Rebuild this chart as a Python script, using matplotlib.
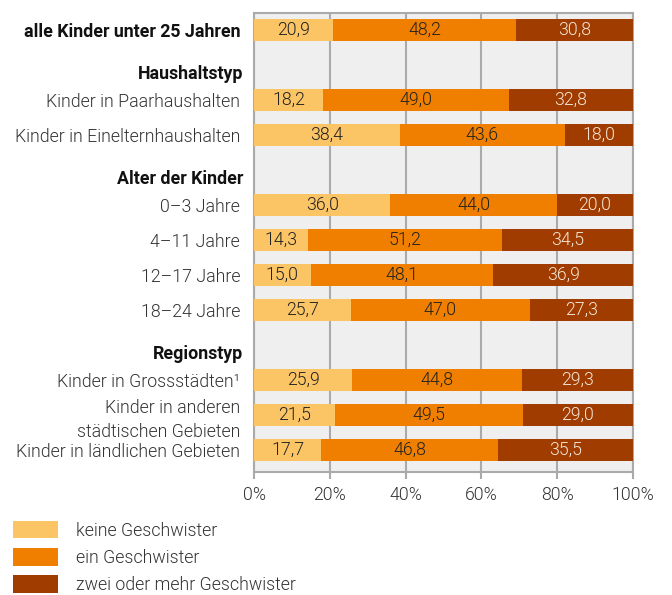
import matplotlib
matplotlib.use("Agg")
import matplotlib.pyplot as plt
from matplotlib.patches import Patch

plt.rcParams['font.family'] = ['Roboto', 'DejaVu Sans']

# data
categories = ["alle Kinder unter 25 Jahren",
              "Kinder in Paarhaushalten", "Kinder in Einelternhaushalten",
              "0\u20133 Jahre", "4\u201311 Jahre", "12\u201317 Jahre", "18\u201324 Jahre",
              "Kinder in Grossstädten\u00b9", "Kinder in anderen\nstädtischen Gebieten",
              "Kinder in ländlichen Gebieten"]
keine = [20.9, 18.2, 38.4, 36.0, 14.3, 15.0, 25.7, 25.9, 21.5, 17.7]
ein = [48.2, 49.0, 43.6, 44.0, 51.2, 48.1, 47.0, 44.8, 49.5, 46.8]
zwei = [30.8, 32.8, 18.0, 20.0, 34.5, 36.9, 27.3, 29.3, 29.0, 35.5]
series_names = ["keine Geschwister", "ein Geschwister", "zwei oder mehr Geschwister"]
headers = ["Haushaltstyp", "Alter der Kinder", "Regionstyp"]

# layout
row_pos = [0, 2, 3, 5, 6, 7, 8, 10, 11, 12]
header_pos = [1.25, 4.25, 9.25]
colors = ["#FBC566", "#F07F00", "#A03C00"]
text_colors = ["#222222", "#222222", "#F5E6D8"]
FS = 12.8
W = 300

fig = plt.figure(figsize=(6.72, 5.95), dpi=100)
ax = fig.add_axes([254 / 672, 1 - 472 / 595, 379 / 672, 459 / 595])
ax.set_facecolor("#EFEFEF")

left = [0] * len(keine)
for vals, col, tc in zip([keine, ein, zwei], colors, text_colors):
    ax.barh(row_pos, vals, left=left, height=0.63, color=col, zorder=3)
    for y, l, v in zip(row_pos, left, vals):
        ax.text(l + v / 2, y, f"{v:.1f}".replace(".", ","), ha="center", va="center",
                fontsize=FS, color=tc, fontweight=W, zorder=4)
    left = [a + b for a, b in zip(left, vals)]

ax.set_xlim(0, 100)
ax.set_ylim(12.63, -0.49)
ax.set_xticks([0, 20, 40, 60, 80, 100])
ax.set_xticklabels([f"{t}%" for t in [0, 20, 40, 60, 80, 100]], fontsize=FS,
                   color="#333333", fontweight=W)
ax.tick_params(axis="x", length=5, color="#AAAAAA", width=1.5, pad=5)
ax.grid(axis="x", color="#AAAAAA", linewidth=1.5, zorder=1)
for s in ax.spines.values():
    s.set_color("#AAAAAA")
    s.set_linewidth(1.5)

ax.set_yticks(row_pos)
ax.set_yticklabels(categories, fontsize=FS, color="#333333", fontweight=W,
                   linespacing=1.4)
ax.tick_params(axis="y", length=0, pad=10)
ax.get_yticklabels()[0].set_fontweight("bold")
ax.get_yticklabels()[0].set_color("#111111")

for h, y in zip(headers, header_pos):
    ax.text(-0.028, y, h, transform=ax.get_yaxis_transform(), ha="right", va="center",
            fontsize=FS, fontweight="bold", color="#111111")

handles = [Patch(facecolor=c, label=n) for c, n in zip(colors, series_names)]
leg = fig.legend(handles=handles, loc="upper left", bbox_to_anchor=(0.009, 0.136),
                 frameon=False, fontsize=FS, handlelength=2.53, handleheight=1.12,
                 handletextpad=1.0, labelspacing=0.47, borderaxespad=0)
for t in leg.get_texts():
    t.set_color("#333333")
    t.set_fontweight(W)

fig.savefig("out.png", dpi=100)
